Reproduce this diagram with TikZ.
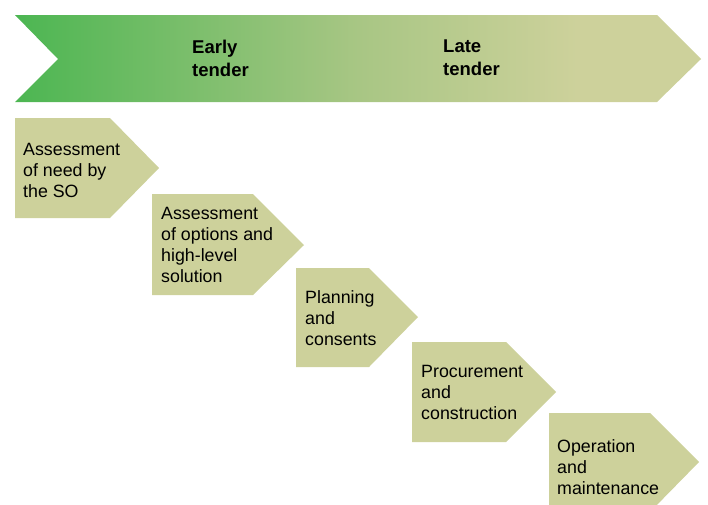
\documentclass[tikz,border=0pt]{standalone}
\usepackage{fontspec}
\setmainfont{Liberation Sans}
\usepackage{xcolor}
\definecolor{tenderleft}{RGB}{76,182,82}
\definecolor{tendermid}{RGB}{168,198,132}
\definecolor{stagefill}{RGB}{205,209,155}
\pgfdeclarehorizontalshading{tendershade}{100bp}{color(0bp)=(tenderleft); color(25bp)=(tenderleft); color(50bp)=(tendermid); color(66bp)=(stagefill); color(100bp)=(stagefill)}
\tikzset{
    tender-arrow/.style = {shading=tendershade},
    stage-box/.style = {fill=stagefill},
    stage-text/.style = {anchor=north west, inner sep=0pt, align=left, font=\fontsize{17.8}{21}\selectfont},
    tender-text/.style = {anchor=north west, inner sep=0pt, align=left, font=\fontsize{18.5}{23}\selectfont\bfseries},
}

\begin{document}
\begin{tikzpicture}[x=1pt, y=-1pt]
\clip (0,0) rectangle (708,504);
% tender timeline
\shade[tender-arrow] (15,15) -- (657,15) -- (701,59) -- (657,102) -- (15,102) -- (58,59) -- cycle;
\node[tender-text] (early) at (192,40) {Early\\tender};
\node[tender-text] (late) at (443,40) {Late\\tender};
% stages
\fill[stage-box] (15,118) -- (110,118) -- (159,168) -- (110,218) -- (15,218) -- cycle;
\node[stage-text] (need) at (23,143) {Assessment\\of need by\\the SO};
\fill[stage-box] (152,194) -- (253,194) -- (304,245) -- (253,295) -- (152,295) -- cycle;
\node[stage-text] (options) at (161,207) {Assessment\\of options and\\high-level\\solution};
\fill[stage-box] (296,268) -- (369,268) -- (418,317) -- (369,367) -- (296,367) -- cycle;
\node[stage-text] (planning) at (305,290) {Planning\\and\\consents};
\fill[stage-box] (412,342) -- (506,342) -- (556,392) -- (506,442) -- (412,442) -- cycle;
\node[stage-text] (procure) at (421,365) {Procurement\\and\\construction};
\fill[stage-box] (549,413) -- (650,413) -- (699,462) -- (650,512) -- (549,512) -- cycle;
\node[stage-text] (operate) at (557,439) {Operation\\and\\maintenance};
\end{tikzpicture}
\end{document}
